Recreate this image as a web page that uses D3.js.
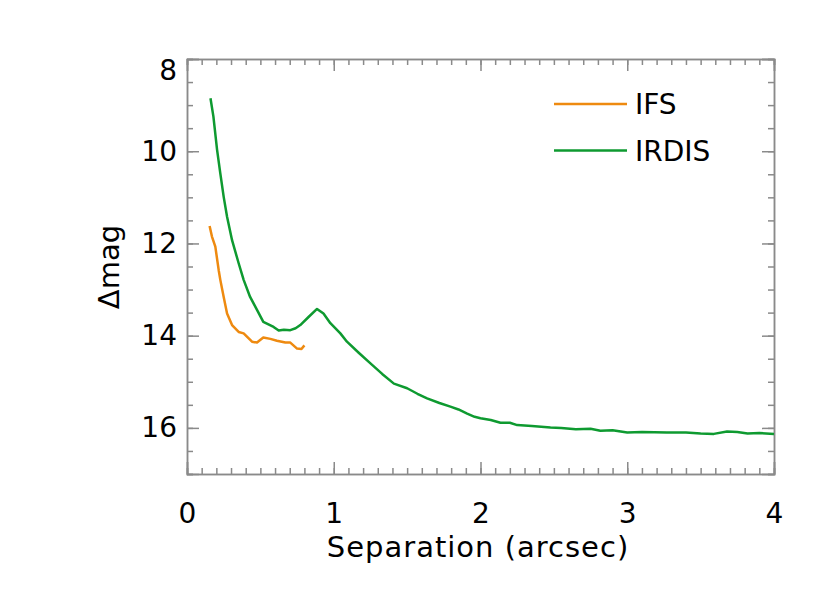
<!DOCTYPE html>
<html>
<head>
<meta charset="utf-8">
<script src="https://cdn.jsdelivr.net/npm/d3@7"></script>
<style>
  body { margin: 0; background: #fff; }
  text { font-family: "DejaVu Sans", sans-serif; fill: #000; }
</style>
</head>
<body>
<script>
// Datos
var irdisSep = [0.16, 0.18, 0.205, 0.227, 0.25, 0.273, 0.307, 0.352, 0.386, 0.43, 0.477, 0.52, 0.59, 0.625, 0.66, 0.704, 0.74, 0.772, 0.83, 0.886, 0.93, 0.977, 1.045, 1.09, 1.17, 1.25, 1.33, 1.41, 1.5, 1.57, 1.636, 1.72, 1.795, 1.85, 1.909, 1.96, 2.0, 2.07, 2.136, 2.2, 2.25, 2.35, 2.477, 2.55, 2.65, 2.75, 2.817, 2.9, 3.0, 3.1, 3.27, 3.4, 3.5, 3.59, 3.68, 3.75, 3.82, 3.9, 4.0]
var irdisMag = [8.85, 9.25, 9.97, 10.48, 10.99, 11.42, 11.93, 12.43, 12.79, 13.16, 13.44, 13.70, 13.81, 13.89, 13.87, 13.88, 13.84, 13.77, 13.59, 13.42, 13.52, 13.73, 13.95, 14.13, 14.37, 14.60, 14.83, 15.04, 15.14, 15.26, 15.36, 15.46, 15.54, 15.60, 15.69, 15.76, 15.79, 15.83, 15.89, 15.89, 15.94, 15.96, 15.99, 16.00, 16.03, 16.02, 16.06, 16.05, 16.10, 16.09, 16.10, 16.10, 16.12, 16.13, 16.08, 16.09, 16.12, 16.11, 16.13]

var ifsSep = [0.154, 0.17, 0.193, 0.216, 0.227, 0.25, 0.273, 0.307, 0.352, 0.386, 0.443, 0.477, 0.52, 0.568, 0.613, 0.67, 0.704, 0.75, 0.78, 0.80]
var ifsMag = [11.62, 11.85, 12.07, 12.58, 12.79, 13.16, 13.52, 13.77, 13.92, 13.95, 14.13, 14.15, 14.04, 14.07, 14.11, 14.15, 14.15, 14.28, 14.29, 14.21]

var series = ["IFS", "IRDIS"]
var colores = ["#ee8a10", "#0e9a30"]

var xTicks = [0, 1, 2, 3, 4]
var yTicks = [8, 10, 12, 14, 16]

// Dimensiones
var width = 830
var height = 593
var margin = { top: 59, bottom: 119, left: 187, right: 56 }

var escalaX = d3.scaleLinear()
  .domain([0, 4])
  .range([margin.left, width - margin.right])

var escalaY = d3.scaleLinear()
  .domain([8, 17])
  .range([margin.top, height - margin.bottom])

var svg = d3.select("body").append("svg")
  .attr("width", width)
  .attr("height", height)

var gris = "#8a8a8a"

// Ejes con ticks menores
function pintarEje(g) {
  g.select(".domain").attr("stroke", gris).attr("stroke-width", 1.5)
  g.selectAll(".tick line").attr("stroke", gris).attr("stroke-width", 1.5)
}

var x0 = margin.left, x1 = width - margin.right
var y0 = margin.top, y1 = height - margin.bottom

var xMenores = d3.range(0, 4.0001, 0.1)
var yMenores = d3.range(8, 17.0001, 0.5)

// Abajo
svg.append("g")
  .attr("transform", "translate(0," + y1 + ")")
  .call(d3.axisBottom(escalaX).tickValues(xMenores).tickSize(-6).tickFormat(""))
  .call(pintarEje)
svg.append("g")
  .attr("transform", "translate(0," + y1 + ")")
  .call(d3.axisBottom(escalaX).tickValues(xTicks).tickSize(-12).tickPadding(29).tickFormat(d3.format("d")))
  .call(pintarEje)
  .call(g => g.selectAll("text").attr("font-size", 28).attr("fill", "#000"))
// Arriba
svg.append("g")
  .attr("transform", "translate(0," + y0 + ")")
  .call(d3.axisTop(escalaX).tickValues(xMenores).tickSize(-6).tickFormat(""))
  .call(pintarEje)
svg.append("g")
  .attr("transform", "translate(0," + y0 + ")")
  .call(d3.axisTop(escalaX).tickValues(xTicks).tickSize(-12).tickFormat(""))
  .call(pintarEje)
// Izquierda
svg.append("g")
  .attr("transform", "translate(" + x0 + ",0)")
  .call(d3.axisLeft(escalaY).tickValues(yMenores).tickSize(-6).tickFormat(""))
  .call(pintarEje)
svg.append("g")
  .attr("transform", "translate(" + x0 + ",0)")
  .call(d3.axisLeft(escalaY).tickValues(yTicks).tickSize(-12).tickPadding(10).tickFormat(d3.format("d")))
  .call(pintarEje)
  .call(g => g.selectAll("text").attr("font-size", 28).attr("fill", "#000"))
  .call(g => g.selectAll(".tick").filter(d => d === 8).select("text").attr("dy", "0.72em"))
// Derecha
svg.append("g")
  .attr("transform", "translate(" + x1 + ",0)")
  .call(d3.axisRight(escalaY).tickValues(yMenores).tickSize(-6).tickFormat(""))
  .call(pintarEje)
svg.append("g")
  .attr("transform", "translate(" + x1 + ",0)")
  .call(d3.axisRight(escalaY).tickValues(yTicks).tickSize(-12).tickFormat(""))
  .call(pintarEje)

// Curvas
var linea = d3.line()
  .x(d => escalaX(d[0]))
  .y(d => escalaY(d[1]))

var datos = [
  d3.zip(ifsSep, ifsMag),
  d3.zip(irdisSep, irdisMag)
]

svg.selectAll("path.curva")
  .data(datos)
  .enter()
  .append("path")
  .attr("class", "curva")
  .attr("fill", "none")
  .attr("stroke", (d, i) => colores[i])
  .attr("stroke-width", 2.5)
  .attr("stroke-linejoin", "round")
  .attr("d", linea)

// Leyenda
var leyenda = svg.selectAll("g.leyenda")
  .data(series)
  .enter()
  .append("g")
  .attr("class", "leyenda")
  .attr("transform", (d, i) => "translate(554," + (104 + i * 46.5) + ")")

leyenda.append("line")
  .attr("x1", 0).attr("x2", 73)
  .attr("stroke", (d, i) => colores[i])
  .attr("stroke-width", 2.5)

leyenda.append("text")
  .attr("x", 81)
  .attr("dy", "0.36em")
  .attr("font-size", 28)
  .text(d => d)

// Etiquetas de los ejes
svg.append("text")
  .attr("text-anchor", "middle")
  .attr("x", 478)
  .attr("y", 557)
  .attr("font-size", 29)
  .attr("letter-spacing", 1)
  .text("Separation (arcsec)")

svg.append("text")
  .attr("text-anchor", "middle")
  .attr("transform", "translate(119,267) rotate(-90)")
  .attr("font-size", 29)
  .text("Δmag")
</script>
</body>
</html>
